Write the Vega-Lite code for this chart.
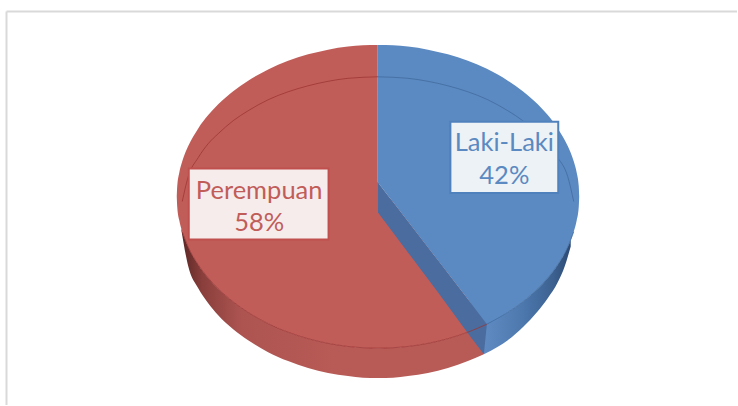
{
"$schema":"https://vega.github.io/schema/vega-lite/v6.json",
"width":738,"height":406,"autosize":{"type":"fit","contains":"padding"},"padding":0,
"background":"white","view":{"stroke":null},
"datasets":{
"frame":[{"x":-372,"x2":359.5,"y":-185.5,"y2":-185.5},{"x":-372,"x2":-372,"y":-185.5,"y2":209}],
"rim":[
{"slice":"Perempuan","x":-197,"y":32,"y2":33},{"slice":"Perempuan","x":-190,"y":50.6,"y2":70},{"slice":"Perempuan","x":-180,"y":68.3,"y2":92},{"slice":"Perempuan","x":-170,"y":81.6,"y2":107},{"slice":"Perempuan","x":-160,"y":92.4,"y2":119},{"slice":"Perempuan","x":-145,"y":105.5,"y2":133},{"slice":"Perempuan","x":-130,"y":116.1,"y2":144},{"slice":"Perempuan","x":-110,"y":127.4,"y2":156},{"slice":"Perempuan","x":-90,"y":136,"y2":165},{"slice":"Perempuan","x":-70,"y":142.5,"y2":172},{"slice":"Perempuan","x":-50,"y":147.2,"y2":177},{"slice":"Perempuan","x":-30,"y":150.3,"y2":180},{"slice":"Perempuan","x":-15,"y":151.6,"y2":181.6},{"slice":"Perempuan","x":0,"y":152,"y2":182},{"slice":"Perempuan","x":15,"y":151.6,"y2":181.6},{"slice":"Perempuan","x":30,"y":150.3,"y2":180},{"slice":"Perempuan","x":50,"y":147.2,"y2":177},{"slice":"Perempuan","x":70,"y":142.5,"y2":172},{"slice":"Perempuan","x":90,"y":136,"y2":165},{"slice":"Perempuan","x":106,"y":129,"y2":158},
{"slice":"Laki-Laki","x":106,"y":129,"y2":158},{"slice":"Laki-Laki","x":120,"y":122,"y2":150.5},{"slice":"Laki-Laki","x":130,"y":116.1,"y2":144},{"slice":"Laki-Laki","x":145,"y":105.5,"y2":131},{"slice":"Laki-Laki","x":160,"y":92.4,"y2":115},{"slice":"Laki-Laki","x":170,"y":81.6,"y2":102},{"slice":"Laki-Laki","x":180,"y":68.3,"y2":86},{"slice":"Laki-Laki","x":187,"y":56.7,"y2":70},{"slice":"Laki-Laki","x":193,"y":43.5,"y2":50}
],
"face":[
{"slice":"Perempuan","x":-201.5,"y":0,"y2":0},{"slice":"Perempuan","x":-201,"y":-10.7,"y2":10.7},{"slice":"Perempuan","x":-199,"y":-23.8,"y2":23.8},{"slice":"Perempuan","x":-196,"y":-35.3,"y2":35.3},{"slice":"Perempuan","x":-190,"y":-50.6,"y2":50.6},{"slice":"Perempuan","x":-180,"y":-68.3,"y2":68.3},{"slice":"Perempuan","x":-170,"y":-81.6,"y2":81.6},{"slice":"Perempuan","x":-160,"y":-92.4,"y2":92.4},{"slice":"Perempuan","x":-145,"y":-105.5,"y2":105.5},{"slice":"Perempuan","x":-130,"y":-116.1,"y2":116.1},{"slice":"Perempuan","x":-110,"y":-127.4,"y2":127.4},{"slice":"Perempuan","x":-90,"y":-136,"y2":136},{"slice":"Perempuan","x":-70,"y":-142.5,"y2":142.5},{"slice":"Perempuan","x":-50,"y":-147.2,"y2":147.2},{"slice":"Perempuan","x":-30,"y":-150.3,"y2":150.3},{"slice":"Perempuan","x":-15,"y":-151.6,"y2":151.6},{"slice":"Perempuan","x":-0.2,"y":-152,"y2":152},{"slice":"Perempuan","x":0.2,"y":-14,"y2":152},{"slice":"Perempuan","x":15,"y":5.5,"y2":151.6},{"slice":"Perempuan","x":30,"y":25,"y2":150.3},{"slice":"Perempuan","x":50,"y":51,"y2":147.2},{"slice":"Perempuan","x":70,"y":77,"y2":142.5},{"slice":"Perempuan","x":90,"y":103,"y2":136},{"slice":"Perempuan","x":109,"y":128,"y2":128},
{"slice":"Laki-Laki","x":0,"y":-152,"y2":-14},{"slice":"Laki-Laki","x":15,"y":-151.6,"y2":5.5},{"slice":"Laki-Laki","x":30,"y":-150.3,"y2":25},{"slice":"Laki-Laki","x":50,"y":-147.2,"y2":51},{"slice":"Laki-Laki","x":70,"y":-142.5,"y2":77},{"slice":"Laki-Laki","x":90,"y":-136,"y2":103},{"slice":"Laki-Laki","x":109,"y":-128,"y2":128},{"slice":"Laki-Laki","x":130,"y":-116.1,"y2":116.1},{"slice":"Laki-Laki","x":145,"y":-105.5,"y2":105.5},{"slice":"Laki-Laki","x":160,"y":-92.4,"y2":92.4},{"slice":"Laki-Laki","x":170,"y":-81.6,"y2":81.6},{"slice":"Laki-Laki","x":180,"y":-68.3,"y2":68.3},{"slice":"Laki-Laki","x":190,"y":-50.6,"y2":50.6},{"slice":"Laki-Laki","x":196,"y":-35.3,"y2":35.3},{"slice":"Laki-Laki","x":199,"y":-23.8,"y2":23.8},{"slice":"Laki-Laki","x":201,"y":-10.7,"y2":10.7},{"slice":"Laki-Laki","x":201.5,"y":0,"y2":0}
],
"cut":[{"x":0,"y":-14,"y2":16},{"x":30,"y":25,"y2":56},{"x":60,"y":64,"y2":96},{"x":90,"y":103,"y2":137},{"x":106,"y":124,"y2":158},{"x":109,"y":128,"y2":128}],
"rings":[
{"slice":"Perempuan","ring":"back","x":-196,"y":5},{"slice":"Perempuan","ring":"back","x":-190,"y":-20},{"slice":"Perempuan","ring":"back","x":-180,"y":-39},{"slice":"Perempuan","ring":"back","x":-170,"y":-53},{"slice":"Perempuan","ring":"back","x":-160,"y":-63},{"slice":"Perempuan","ring":"back","x":-145,"y":-76},{"slice":"Perempuan","ring":"back","x":-130,"y":-86},{"slice":"Perempuan","ring":"back","x":-110,"y":-97},{"slice":"Perempuan","ring":"back","x":-90,"y":-105},{"slice":"Perempuan","ring":"back","x":-70,"y":-111},{"slice":"Perempuan","ring":"back","x":-50,"y":-115.5},{"slice":"Perempuan","ring":"back","x":-30,"y":-118.5},{"slice":"Perempuan","ring":"back","x":0,"y":-120},
{"slice":"Laki-Laki","ring":"back","x":0,"y":-120},{"slice":"Laki-Laki","ring":"back","x":30,"y":-118.5},{"slice":"Laki-Laki","ring":"back","x":50,"y":-115.5},{"slice":"Laki-Laki","ring":"back","x":70,"y":-111},{"slice":"Laki-Laki","ring":"back","x":90,"y":-105},{"slice":"Laki-Laki","ring":"back","x":110,"y":-97},{"slice":"Laki-Laki","ring":"back","x":130,"y":-86},{"slice":"Laki-Laki","ring":"back","x":145,"y":-76},{"slice":"Laki-Laki","ring":"back","x":160,"y":-63},{"slice":"Laki-Laki","ring":"back","x":170,"y":-53},{"slice":"Laki-Laki","ring":"back","x":180,"y":-39},{"slice":"Laki-Laki","ring":"back","x":190,"y":-20},{"slice":"Laki-Laki","ring":"back","x":196,"y":5},
{"slice":"Perempuan","ring":"front","x":-196,"y":35.3},{"slice":"Perempuan","ring":"front","x":-190,"y":50.6},{"slice":"Perempuan","ring":"front","x":-180,"y":68.3},{"slice":"Perempuan","ring":"front","x":-170,"y":81.6},{"slice":"Perempuan","ring":"front","x":-160,"y":92.4},{"slice":"Perempuan","ring":"front","x":-145,"y":105.5},{"slice":"Perempuan","ring":"front","x":-130,"y":116.1},{"slice":"Perempuan","ring":"front","x":-110,"y":127.4},{"slice":"Perempuan","ring":"front","x":-90,"y":136},{"slice":"Perempuan","ring":"front","x":-70,"y":142.5},{"slice":"Perempuan","ring":"front","x":-50,"y":147.2},{"slice":"Perempuan","ring":"front","x":-30,"y":150.3},{"slice":"Perempuan","ring":"front","x":0,"y":152},{"slice":"Perempuan","ring":"front","x":30,"y":150.3},{"slice":"Perempuan","ring":"front","x":50,"y":147.2},{"slice":"Perempuan","ring":"front","x":70,"y":142.5},{"slice":"Perempuan","ring":"front","x":90,"y":136},{"slice":"Perempuan","ring":"front","x":109,"y":128},
{"slice":"Laki-Laki","ring":"front","x":109,"y":128},{"slice":"Laki-Laki","ring":"front","x":130,"y":116.1},{"slice":"Laki-Laki","ring":"front","x":145,"y":105.5},{"slice":"Laki-Laki","ring":"front","x":160,"y":92.4},{"slice":"Laki-Laki","ring":"front","x":170,"y":81.6},{"slice":"Laki-Laki","ring":"front","x":180,"y":68.3},{"slice":"Laki-Laki","ring":"front","x":190,"y":50.6},{"slice":"Laki-Laki","ring":"front","x":196,"y":35.3}
],
"labels":[
{"slice":"Laki-Laki","percent":42,"x":72.5,"x2":180.5,"y":-75,"y2":-3.5},
{"slice":"Perempuan","percent":58,"x":-189.5,"x2":-49.5,"y":-28,"y2":43}
],
"texts":[
{"slice":"Laki-Laki","text":"Laki-Laki","x":126.5,"y":-54},
{"slice":"Laki-Laki","text":"42%","x":126.5,"y":-21},
{"slice":"Perempuan","text":"Perempuan","x":-119,"y":-6},
{"slice":"Perempuan","text":"58%","x":-119,"y":27}
]
},
"encoding":{
"x":{"field":"x","type":"quantitative","axis":null,"title":null,"scale":{"domain":[-378.5,359.5],"nice":false,"zero":false}},
"y":{"field":"y","type":"quantitative","axis":null,"title":null,"scale":{"domain":[209,-197],"nice":false,"zero":false}}
},
"layer":[
{"data":{"name":"frame"},"mark":{"type":"rule","color":"#d9d9d9","strokeWidth":2},"encoding":{"x2":{"field":"x2"},"y2":{"field":"y2"}}},
{"data":{"name":"rim"},"transform":[{"filter":"datum.slice==='Perempuan'"}],"mark":{"type":"area","interpolate":"monotone","fill":{"gradient":"linear","x1":0,"x2":1,"y1":0,"y2":0,"stops":[{"offset":0,"color":"#5a2725"},{"offset":0.07,"color":"#8a3f3c"},{"offset":0.2,"color":"#ad5451"},{"offset":0.5,"color":"#b85a56"},{"offset":1,"color":"#b85a56"}]}},"encoding":{"y2":{"field":"y2"}}},
{"data":{"name":"rim"},"transform":[{"filter":"datum.slice==='Laki-Laki'"}],"mark":{"type":"area","interpolate":"monotone","fill":{"gradient":"linear","x1":0,"x2":1,"y1":0,"y2":0,"stops":[{"offset":0,"color":"#5f8bc2"},{"offset":0.45,"color":"#4c78ae"},{"offset":0.8,"color":"#3c6190"},{"offset":1,"color":"#2c4a74"}]}},"encoding":{"y2":{"field":"y2"}}},
{"data":{"name":"face"},"mark":{"type":"area","interpolate":"monotone"},"encoding":{"y2":{"field":"y2"},"color":{"field":"slice","type":"nominal","legend":null,"scale":{"domain":["Laki-Laki","Perempuan"],"range":["#5b89c1","#c15d59"]}}}},
{"data":{"name":"cut"},"mark":{"type":"area","color":"#4a6c9f"},"encoding":{"y2":{"field":"y2"}}},
{"data":{"name":"rings"},"transform":[{"filter":"datum.slice==='Perempuan'"}],"mark":{"type":"line","interpolate":"monotone","color":"#9c3634","strokeWidth":1,"opacity":0.8},"encoding":{"detail":{"field":"ring"}}},
{"data":{"name":"rings"},"transform":[{"filter":"datum.slice==='Laki-Laki'"}],"mark":{"type":"line","interpolate":"monotone","color":"#3f6a9c","strokeWidth":1,"opacity":0.75},"encoding":{"detail":{"field":"ring"}}},
{"data":{"name":"labels"},"mark":{"type":"rect","fill":"#000000","opacity":0.05,"xOffset":4,"yOffset":5},"encoding":{"x2":{"field":"x2"},"y2":{"field":"y2"}}},
{"data":{"name":"labels"},"mark":{"type":"rect","fill":"#000000","opacity":0.06,"xOffset":2,"yOffset":3},"encoding":{"x2":{"field":"x2"},"y2":{"field":"y2"}}},
{"data":{"name":"labels"},"mark":{"type":"rect","strokeWidth":2},"encoding":{"x2":{"field":"x2"},"y2":{"field":"y2"},"fill":{"field":"slice","type":"nominal","legend":null,"scale":{"domain":["Laki-Laki","Perempuan"],"range":["#edf2f6","#f6ecec"]}},"stroke":{"field":"slice","type":"nominal","legend":null,"scale":{"domain":["Laki-Laki","Perempuan"],"range":["#4f81bd","#c0504d"]}}}},
{"data":{"name":"texts"},"mark":{"type":"text","font":"Lato","fontSize":25.5,"align":"center","baseline":"middle"},"encoding":{"text":{"field":"text"},"color":{"field":"slice","type":"nominal","legend":null,"scale":{"domain":["Laki-Laki","Perempuan"],"range":["#4f81bd","#c0504d"]}}}}
]
}
